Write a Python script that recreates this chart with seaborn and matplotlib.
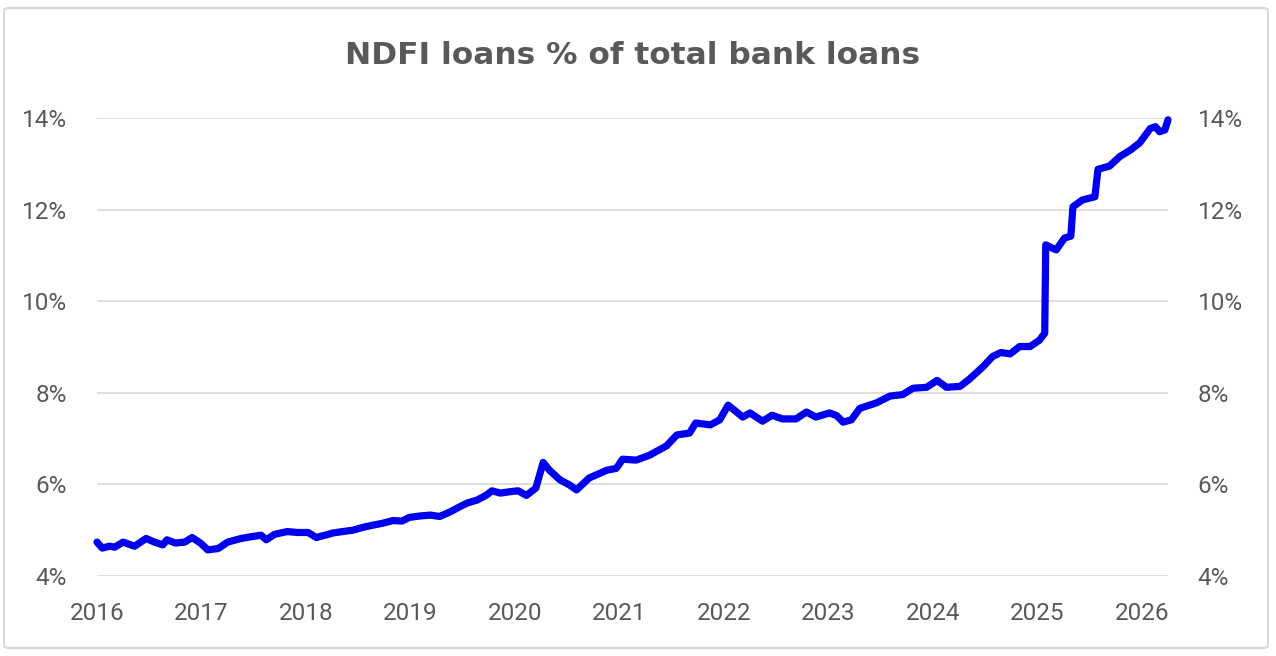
import numpy as np
import pandas as pd
import matplotlib
matplotlib.use('Agg')
import matplotlib.pyplot as plt
from matplotlib.patches import FancyBboxPatch
import seaborn as sns

# weekly series (decimal year, % of total bank loans)
dates = [2016.00, 2016.05, 2016.12, 2016.17, 2016.25, 2016.36, 2016.47, 2016.55, 2016.63, 2016.67,
         2016.75, 2016.84, 2016.91, 2016.99, 2017.06, 2017.16, 2017.25, 2017.38, 2017.48, 2017.57,
         2017.62, 2017.70, 2017.82, 2017.92, 2018.02, 2018.10, 2018.18, 2018.26, 2018.35, 2018.45,
         2018.54, 2018.64, 2018.73, 2018.83, 2018.92, 2018.99, 2019.09, 2019.19, 2019.28, 2019.38,
         2019.47, 2019.54, 2019.64, 2019.73, 2019.78, 2019.86, 2019.95, 2020.03, 2020.11, 2020.20,
         2020.27, 2020.33, 2020.43, 2020.52, 2020.59, 2020.71, 2020.88, 2020.97, 2021.03, 2021.16,
         2021.29, 2021.45, 2021.55, 2021.67, 2021.73, 2021.87, 2021.96, 2022.04, 2022.10, 2022.18,
         2022.25, 2022.37, 2022.46, 2022.56, 2022.69, 2022.79, 2022.88, 2023.01, 2023.08, 2023.14,
         2023.22, 2023.30, 2023.46, 2023.59, 2023.71, 2023.81, 2023.94, 2024.04, 2024.13, 2024.26,
         2024.35, 2024.48, 2024.57, 2024.65, 2024.74, 2024.83, 2024.93, 2025.02, 2025.07, 2025.08,
         2025.18, 2025.26, 2025.32, 2025.34, 2025.43, 2025.55, 2025.58, 2025.69, 2025.79, 2025.89,
         2025.98, 2026.08, 2026.13, 2026.17, 2026.22, 2026.25]
ndfi_pct = [4.74, 4.61, 4.65, 4.63, 4.74, 4.65, 4.82, 4.74, 4.68, 4.79,
            4.72, 4.74, 4.84, 4.72, 4.57, 4.60, 4.74, 4.82, 4.86, 4.89,
            4.79, 4.91, 4.97, 4.95, 4.95, 4.84, 4.89, 4.94, 4.97, 5.00,
            5.06, 5.11, 5.15, 5.21, 5.20, 5.28, 5.31, 5.33, 5.30, 5.40,
            5.51, 5.59, 5.66, 5.77, 5.86, 5.81, 5.84, 5.86, 5.76, 5.92,
            6.48, 6.31, 6.10, 5.99, 5.88, 6.14, 6.31, 6.35, 6.55, 6.53,
            6.64, 6.84, 7.08, 7.12, 7.34, 7.30, 7.41, 7.73, 7.62, 7.47,
            7.56, 7.38, 7.51, 7.43, 7.43, 7.58, 7.47, 7.56, 7.50, 7.36,
            7.41, 7.66, 7.78, 7.93, 7.96, 8.10, 8.12, 8.27, 8.12, 8.14,
            8.30, 8.57, 8.79, 8.88, 8.85, 9.01, 9.01, 9.15, 9.30, 11.23,
            11.12, 11.38, 11.42, 12.06, 12.21, 12.28, 12.88, 12.95, 13.16, 13.30,
            13.46, 13.77, 13.81, 13.70, 13.74, 13.96]
years = list(range(2016, 2027))
yticks = [4, 6, 8, 10, 12, 14]

df = pd.DataFrame({'date': dates, 'pct': ndfi_pct})

sns.set_style('white')
plt.rcParams['font.family'] = ['Roboto', 'DejaVu Sans']
grey = '#595959'

fig = plt.figure(figsize=(12.76, 6.56), dpi=100)
ax = fig.add_axes([97 / 1276, 1 - 576 / 656, (1168 - 97) / 1276, (576 - 118) / 656])

sns.lineplot(data=df, x='date', y='pct', ax=ax, color='#0000ee', lw=5.2, clip_on=False)

ax.set_xlim(2016, 2026.25)
ax.set_ylim(4, 14)
ax.set_xticks(years)
ax.set_xticklabels([str(y) for y in years])
ax.set_yticks(yticks)
ax.set_yticklabels([f'{t}%' for t in yticks])
ax.set_xlabel('')
ax.set_ylabel('')
ax.grid(axis='y', color='#d9d9d9', lw=1.2)
ax.grid(axis='x', visible=False)
for s in ax.spines.values():
    s.set_visible(False)
ax.tick_params(axis='y', labelright=True, left=False, right=False, pad=18,
               labelsize=17.5, labelcolor=grey)
ax.tick_params(axis='x', bottom=False, pad=15, labelsize=17.5, labelcolor=grey)

fig.text(0.496, 1 - 56 / 656, 'NDFI loans % of total bank loans', ha='center', va='center',
         fontsize=22.5, fontweight='bold', color=grey, family='DejaVu Sans')

# light frame around the chart
frame = FancyBboxPatch((4 / 1276, 8 / 656), 1264 / 1276, 640 / 656,
                       boxstyle='round,pad=0,rounding_size=0.004', transform=fig.transFigure,
                       fill=False, ec='#d9d9d9', lw=1.5)
fig.patches.append(frame)

fig.savefig('out.png', dpi=100)
